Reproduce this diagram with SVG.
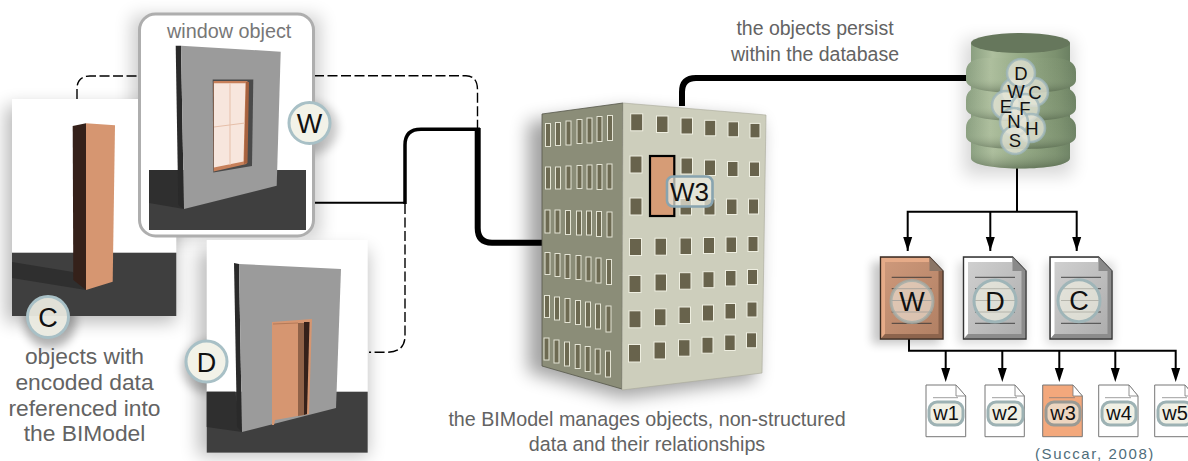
<svg xmlns="http://www.w3.org/2000/svg" width="1188" height="461" viewBox="0 0 1188 461">
<style>
text{font-family:"Liberation Sans",Arial,sans-serif}
.cap{fill:#636363;text-anchor:middle}
.lt{fill:#111;text-anchor:middle}
.bub{fill:#f2f2e8;stroke:#a8c0c6;stroke-width:3}
.bubs{fill:#e6e6d8;fill-opacity:.75;stroke:#9db5ba;stroke-opacity:.8;stroke-width:2.5}
.floor{fill:#3f3f3f}
.fsh{fill:#2f2f2f}
.wall{fill:#9b9b9b}
.wside{fill:#2a2a2a}
.rw{fill:#68634c;stroke:#eeeee0;stroke-width:1}
.lw{fill:#6d6a52;stroke:#e4e4d4;stroke-width:1}
.sh{fill:#000;filter:url(#blur)}
.sh2{fill:#000;filter:url(#blur2)}
.wire{fill:none;stroke:#000}
.dl{stroke:#333;stroke-width:1;opacity:.85}
.sdoc{stroke:#777;stroke-width:1}
.pill{fill:#eeeee2;fill-opacity:.9;stroke:#9db2b4;stroke-width:3}
.sd{stroke:#777;stroke-width:1;opacity:.7}
.fold{fill:#fff;stroke:#777;stroke-width:.8}
</style>
<defs>
<filter id="blur" x="-40%" y="-40%" width="180%" height="180%"><feGaussianBlur stdDeviation="9"/></filter>
<filter id="blur2" x="-60%" y="-60%" width="220%" height="220%"><feGaussianBlur stdDeviation="5"/></filter>
<linearGradient id="db" x1="0" x2="1" y1="0" y2="0"><stop offset="0" stop-color="#8a9f80"/><stop offset=".22" stop-color="#aebf9e"/><stop offset=".5" stop-color="#95aa86"/><stop offset=".85" stop-color="#7c916f"/><stop offset="1" stop-color="#6b8062"/></linearGradient>
<linearGradient id="dbb" x1="0" x2="0" y1="0" y2="1"><stop offset="0" stop-color="#a8b99a" stop-opacity="0"/><stop offset=".6" stop-color="#a8b99a" stop-opacity=".08"/><stop offset="1" stop-color="#2f3d2b" stop-opacity=".42"/></linearGradient>
<linearGradient id="dg" x1="0" x2="1" y1="0" y2="1"><stop offset="0" stop-color="#d2d2d2"/><stop offset="1" stop-color="#ababab"/></linearGradient>
<linearGradient id="og" x1="0" x2="1" y1="0" y2="1"><stop offset="0" stop-color="#cf9a7c"/><stop offset="1" stop-color="#b07f63"/></linearGradient>
</defs>

<g id="shadows">
<rect class="sh" x="6" y="106" width="170" height="216" opacity=".28"/>
<rect class="sh" x="132" y="16" width="188" height="222" opacity=".2"/>
<rect class="sh" x="198" y="250" width="170" height="206" opacity=".25"/>
<circle class="sh2" cx="312" cy="128" r="26" opacity=".2"/>
<circle class="sh2" cx="50" cy="322" r="26" opacity=".3"/>
<circle class="sh2" cx="208" cy="367" r="26" opacity=".25"/>
<polygon class="sh" points="528,122 623,110 760,122 756,380 622,398 528,372" opacity=".36"/>
<rect class="sh" x="964" y="40" width="108" height="135" opacity=".16"/>
<rect class="sh2" x="872" y="262" width="68" height="82" opacity=".22"/>
<rect class="sh2" x="958" y="262" width="68" height="82" opacity=".14"/>
<rect class="sh2" x="1046" y="262" width="68" height="82" opacity=".14"/>
</g>

<g id="connectors">
<path class="wire" stroke-width="1.4" stroke-dasharray="10 3.5" d="M77,99 V89 Q77,76 90,76 H139"/>
<path class="wire" stroke-width="1.4" stroke-dasharray="10 3.5" d="M314,75.7 H466 Q477.5,76 477.5,90 V128"/>
<path class="wire" stroke-width="1.4" stroke-dasharray="10 3.5" d="M405,204 V336 Q405,352 387,352.3 H369"/>
<path class="wire" stroke-width="2" d="M306,202.7 H406"/>
<path class="wire" stroke-width="3.5" d="M405,204 V145 Q405,129.3 421,129.3 H480"/>
<path class="wire" stroke-width="6" d="M477.7,128 V228 Q477.7,242.7 492,242.7 H543"/>
<path class="wire" stroke-width="6" d="M682,106 V92 Q682,78 696,78 H968"/>
<path class="wire" stroke-width="2" d="M1017,166 V211.7"/>
<path class="wire" stroke-width="2" d="M907.7,251 V211.7 H1076.7 V251"/>
<path class="wire" stroke-width="2" d="M990.3,211.7 V251"/>
<path d="M903.2,237 h9 l-4.5,14z M985.8,237 h9 l-4.5,14z M1072.2,237 h9 l-4.5,14z"/>
<path class="wire" stroke-width="2" d="M909,338 V350.7 H1175.7 V368"/>
<path class="wire" stroke-width="2" d="M945.7,350.7 V368 M1002.3,350.7 V368 M1059.3,350.7 V368 M1115.3,350.7 V368"/>
<path d="M941.2,368 h9 l-4.5,14z M997.8,368 h9 l-4.5,14z M1054.8,368 h9 l-4.5,14z M1110.8,368 h9 l-4.5,14z M1171.2,368 h9 l-4.5,14z"/>
</g>

<g id="column-object">
<rect x="12" y="99" width="164.3" height="217" fill="#fff"/>
<rect class="floor" x="12" y="252.7" width="164.3" height="63.3"/>
<polygon class="fsh" points="12,262 73,272 86,290 12,278"/>
<polygon fill="#35211a" points="72.7,126 86,123.3 86,290 73.3,280"/>
<polygon fill="#d69671" points="86,123.3 115,125.3 112.7,281.7 86,290"/>
<circle class="bub" cx="48" cy="317" r="20.5" fill-opacity=".9"/>
<text class="lt" x="48" y="327" font-size="27">C</text>
</g>

<g id="window-object">
<rect x="139.5" y="14" width="174" height="222" rx="16" fill="#fff" stroke="#aeaeae" stroke-width="3"/>
<rect class="floor" x="149" y="170" width="157" height="60"/>
<polygon class="fsh" points="149,170 178,170 184,209 149,203"/>
<polygon class="wside" points="175.7,45.7 181,45.7 184,209 178.3,205"/>
<polygon class="wall" points="181,45.7 280.7,51.7 276.7,185.7 184,209"/>
<polygon fill="#4a4a4a" points="212.7,79.5 253.3,79.5 252,166 213.3,172.5"/>
<polygon fill="#c7805a" points="213.5,81 247.5,81 246.5,164 213.7,171.5"/>
<polygon fill="#a7623f" points="246,82 249,82 247.5,163 244,164"/>
<polygon fill="#f7e6dd" points="214,83.3 245.5,83.3 243.5,161.5 214,167.5"/>
<path d="M230,83.3 V165 M214,127 L245,123" stroke="#e6bfa9" stroke-width="1" fill="none"/>
<text x="229.2" y="38" font-size="19.8" fill="#777" text-anchor="middle">window object</text>
<circle class="bub" cx="309.5" cy="123" r="20.5"/>
<text class="lt" x="309.5" y="133" font-size="27">W</text>
</g>

<g id="door-object">
<rect x="206.7" y="240" width="161" height="213" fill="#fff"/>
<rect class="floor" x="206.7" y="391.7" width="161" height="61"/>
<polygon class="fsh" points="206.7,391.7 235,391.7 242,432 206.7,427"/>
<polygon class="wside" points="234,263 239,264 242,432 237,427"/>
<polygon class="wall" points="239,264 341,269 336,408 242,432"/>
<polygon fill="#d69671" points="272,322 312,319 309,414 275,420 274,425 272,425"/>
<polygon fill="#8f6248" points="298,323 304,323 304,415 298,416"/>
<polygon fill="#35211a" points="304,322 309.5,322 307,414 304,415"/>
<path d="M273,324 L298,323" stroke="#b57a58" stroke-width="1" fill="none"/>
<circle class="bub" cx="206.5" cy="361.5" r="20.5"/>
<text class="lt" x="206.5" y="371.5" font-size="27">D</text>
</g>

<g id="building">
<polygon fill="#8b8d78" stroke="#55574a" stroke-width=".8" points="542,114 623,103 622,389 542,366"/>
<polygon fill="#cdcebc" stroke="#a9aa9a" stroke-width=".6" points="623,103 766,115 762,373 622,390"/>
<g id="left-windows">
<rect class="lw" x="545.5" y="123.5" width="5" height="23"/><rect class="lw" x="555.5" y="122.5" width="5" height="23"/><rect class="lw" x="566" y="121" width="5" height="24"/><rect class="lw" x="577" y="119.5" width="5" height="24"/><rect class="lw" x="587" y="118" width="5" height="25"/><rect class="lw" x="597" y="116.5" width="5" height="25"/><rect class="lw" x="607.5" y="115.5" width="5" height="25"/>
<rect class="lw" x="545.5" y="167" width="5" height="22"/><rect class="lw" x="555.5" y="167" width="5" height="22"/><rect class="lw" x="566" y="166" width="5" height="23"/><rect class="lw" x="577" y="165.5" width="5" height="23"/><rect class="lw" x="587" y="165" width="5" height="24"/><rect class="lw" x="597" y="164.5" width="5" height="25"/><rect class="lw" x="607" y="164" width="5" height="25"/>
<rect class="lw" x="545" y="210" width="5" height="23"/><rect class="lw" x="555" y="210" width="5" height="23"/><rect class="lw" x="565.5" y="210.5" width="5" height="24"/><rect class="lw" x="576.5" y="211" width="5" height="24"/><rect class="lw" x="586.5" y="211" width="5" height="24"/><rect class="lw" x="596.5" y="211.5" width="5" height="25"/><rect class="lw" x="607" y="212" width="5" height="25"/>
<rect class="lw" x="545" y="252.5" width="5" height="22"/><rect class="lw" x="555" y="253.5" width="5" height="23"/><rect class="lw" x="565" y="254.5" width="5" height="24"/><rect class="lw" x="576" y="255.5" width="5" height="24"/><rect class="lw" x="586" y="257" width="5" height="24"/><rect class="lw" x="596" y="258" width="5" height="25"/><rect class="lw" x="606.5" y="259.5" width="5" height="25"/>
<rect class="lw" x="544.5" y="295.5" width="5" height="22"/><rect class="lw" x="554.5" y="297" width="5" height="23"/><rect class="lw" x="565" y="298.5" width="5" height="24"/><rect class="lw" x="575.5" y="300.5" width="5" height="24"/><rect class="lw" x="585.5" y="302" width="5" height="25"/><rect class="lw" x="595.5" y="304" width="5" height="25"/><rect class="lw" x="606" y="306" width="5" height="26"/>
<rect class="lw" x="544" y="338" width="5" height="22"/><rect class="lw" x="554" y="340" width="5" height="23"/><rect class="lw" x="564.5" y="342" width="5" height="24"/><rect class="lw" x="575.2" y="344.5" width="5" height="24"/><rect class="lw" x="585.2" y="346.5" width="5" height="25"/><rect class="lw" x="595.2" y="349" width="5" height="25"/><rect class="lw" x="605.5" y="351" width="5" height="26"/>
</g>
<g id="right-windows">
<rect class="rw" x="630.7" y="113.8" width="12" height="17"/><rect class="rw" x="656.5" y="116" width="11.5" height="16.5"/><rect class="rw" x="681" y="118" width="11.5" height="16"/><rect class="rw" x="704.7" y="120.3" width="11" height="15.5"/><rect class="rw" x="728" y="121.8" width="10.5" height="15"/><rect class="rw" x="750" y="123.4" width="10" height="14.5"/>
<rect class="rw" x="630" y="156" width="12" height="17"/><rect class="rw" x="681" y="158" width="11.5" height="16"/><rect class="rw" x="704.5" y="160" width="11" height="15.5"/><rect class="rw" x="727.5" y="161.5" width="10.5" height="15"/><rect class="rw" x="749.5" y="162" width="10" height="14.5"/>
<rect class="rw" x="630" y="198" width="12" height="17"/><rect class="rw" x="680" y="198.5" width="11.5" height="16.5"/><rect class="rw" x="704" y="199" width="11" height="16"/><rect class="rw" x="726.5" y="199" width="10.5" height="15.5"/><rect class="rw" x="748.5" y="199" width="10" height="15"/>
<rect class="rw" x="629.5" y="238.5" width="12" height="17"/><rect class="rw" x="655" y="238.2" width="11.5" height="17"/><rect class="rw" x="680" y="238" width="11.5" height="16.5"/><rect class="rw" x="703.5" y="237.5" width="11" height="16"/><rect class="rw" x="726" y="237" width="10.5" height="15.5"/><rect class="rw" x="748" y="236.5" width="10" height="15"/>
<rect class="rw" x="629" y="275.5" width="12" height="17"/><rect class="rw" x="655" y="274" width="11.5" height="17"/><rect class="rw" x="679.5" y="272.7" width="11.5" height="16.5"/><rect class="rw" x="703" y="271.7" width="11" height="16"/><rect class="rw" x="725.5" y="270.5" width="10.5" height="15.5"/><rect class="rw" x="747.5" y="269.5" width="10" height="15"/>
<rect class="rw" x="629" y="310.8" width="12" height="17"/><rect class="rw" x="654.5" y="308.8" width="11.5" height="17"/><rect class="rw" x="679" y="307" width="11.5" height="16.5"/><rect class="rw" x="702.5" y="305" width="11" height="16"/><rect class="rw" x="725" y="303.5" width="10.5" height="15.5"/><rect class="rw" x="747" y="302" width="10" height="15"/>
<rect class="rw" x="628.5" y="344.5" width="12" height="17.5"/><rect class="rw" x="654" y="342" width="11.5" height="17"/><rect class="rw" x="678.5" y="339.7" width="11.5" height="16.5"/><rect class="rw" x="702" y="337.2" width="11" height="16"/><rect class="rw" x="724.7" y="335" width="10.5" height="15.5"/><rect class="rw" x="746.5" y="332.8" width="10" height="15"/>
</g>
<rect x="650" y="156" width="24.3" height="60" fill="#d69c76" stroke="#000" stroke-width="2.2"/>
<rect x="667" y="176.5" width="45.5" height="30" rx="6" fill="#eeeee2" fill-opacity=".7" stroke="#88a4b0" stroke-width="2.6"/>
<text class="lt" x="689.5" y="201" font-size="26">W3</text>
</g>

<g id="database">
<path fill="url(#db)" d="M971,43 V158 C971,172 1070,172 1070,158 V43Z"/>
<path fill="url(#dbb)" d="M971,125 V158 C971,172 1070,172 1070,158 V125Z"/>
<path fill="url(#db)" d="M966,128 C966,119 972,115 985,114 H1056 C1069,115 1076,119 1076,128 V136 C1076,146 1050,149 1021,149 C992,149 966,146 966,136Z"/>
<path fill="url(#dbb)" d="M966,128 C966,119 972,115 985,114 H1056 C1069,115 1076,119 1076,128 V136 C1076,146 1050,149 1021,149 C992,149 966,146 966,136Z"/>
<path fill="url(#db)" d="M966,100 C966,91 972,87 985,86 H1056 C1069,87 1076,91 1076,100 V108 C1076,118 1050,121 1021,121 C992,121 966,118 966,108Z"/>
<path fill="url(#dbb)" d="M966,100 C966,91 972,87 985,86 H1056 C1069,87 1076,91 1076,100 V108 C1076,118 1050,121 1021,121 C992,121 966,118 966,108Z"/>
<path fill="url(#db)" d="M966,72 C966,63 972,59 985,58 H1056 C1069,59 1076,63 1076,72 V80 C1076,90 1050,93 1021,93 C992,93 966,90 966,80Z"/>
<path fill="url(#dbb)" d="M966,72 C966,63 972,59 985,58 H1056 C1069,59 1076,63 1076,72 V80 C1076,90 1050,93 1021,93 C992,93 966,90 966,80Z"/>
<ellipse cx="1020.5" cy="43" rx="49.5" ry="10" fill="#66775c"/>
<circle class="bubs" cx="1015" cy="92" r="14"/>
<circle class="bubs" cx="1034" cy="92" r="14"/>
<circle class="bubs" cx="1021" cy="73" r="14"/>
<circle class="bubs" cx="1006" cy="105" r="14"/>
<circle class="bubs" cx="1025" cy="108" r="14"/>
<circle class="bubs" cx="1031" cy="128" r="14"/>
<circle class="bubs" cx="1014" cy="122" r="14"/>
<circle class="bubs" cx="1015" cy="140" r="14"/>
<text class="lt" x="1016" y="97.6" font-size="18.5">W</text>
<text class="lt" x="1035" y="98.6" font-size="18.5">C</text>
<text class="lt" x="1021" y="79.6" font-size="18.5">D</text>
<text class="lt" x="1006" y="112.6" font-size="18.5">E</text>
<text class="lt" x="1025" y="114.6" font-size="18.5">F</text>
<text class="lt" x="1032" y="134.6" font-size="18.5">H</text>
<text class="lt" x="1014" y="127.6" font-size="18.5">N</text>
<text class="lt" x="1015" y="146.6" font-size="18.5">S</text>
</g>

<g id="doc-W">
<path fill="url(#og)" stroke="#3a2a20" stroke-width="1.4" d="M880.5,257 H929.5 L943,271 V339 H880.5Z"/>
<path fill="#e6ab88" d="M881.5,258 H929 V262 H885 V334 L881.5,338Z"/>
<path fill="#8d644d" d="M881.5,338 L885,334 H938.5 V271 H942 V338Z"/>
<polygon points="929.5,257 943,271 929.5,271" fill="#8a7566"/>
<path class="dl" stroke="#5a2d14" d="M891.7,277.3 H931.7 M891.7,288.7 H931.7 M891.7,300.5 H931.7 M891.7,312 H931.7 M891.7,323.3 H931.7"/>
<circle cx="912" cy="301.5" r="21" fill="#f0eadd" fill-opacity=".6" stroke="#a3aca8" stroke-opacity=".8" stroke-width="3"/>
<text class="lt" x="912" y="311" font-size="27">W</text>
</g>
<g id="doc-D">
<path fill="url(#dg)" stroke="#333" stroke-width="1.4" d="M963.5,257 H1012.5 L1026,271 V339 H963.5Z"/>
<path fill="#fff" d="M964.5,258 H1012 V262 H968 V334 L964.5,338Z"/>
<path fill="#8c8c8c" d="M964.5,338 L968,334 H1021.5 V271 H1025 V338Z"/>
<polygon points="1012.5,257 1026,271 1012.5,271" fill="#8a8a8a"/>
<path class="dl" d="M975,277.3 H1015 M975,288.7 H1015 M975,300.5 H1015 M975,312 H1015 M975,323.3 H1015"/>
<circle cx="995" cy="301" r="21" fill="#f0f0e2" fill-opacity=".65" stroke="#9fb5b8" stroke-width="3"/>
<text class="lt" x="995" y="310.5" font-size="27">D</text>
</g>
<g id="doc-C">
<path fill="url(#dg)" stroke="#333" stroke-width="1.4" d="M1050,257 H1098.5 L1112,271 V339 H1050Z"/>
<path fill="#fff" d="M1051,258 H1098 V262 H1054.5 V334 L1051,338Z"/>
<path fill="#8c8c8c" d="M1051,338 L1054.5,334 H1107.5 V271 H1111 V338Z"/>
<polygon points="1098.5,257 1112,271 1098.5,271" fill="#8a8a8a"/>
<path class="dl" d="M1061,277.3 H1101 M1061,288.7 H1101 M1061,300.5 H1101 M1061,312 H1101 M1061,323.3 H1101"/>
<circle cx="1079" cy="300.7" r="21" fill="#f0f0e2" fill-opacity=".65" stroke="#9fb5b8" stroke-width="3"/>
<text class="lt" x="1079" y="310" font-size="27">C</text>
</g>

<g id="doc-w1">
<path class="sdoc" fill="#fff" d="M926,385 H956 L965.7,396 V436.7 H926Z"/><path class="fold" d="M956,385 V396 H965.7Z"/>
<path class="sd" d="M933,397.7 H958"/>
<rect class="pill" x="929" y="402" width="34" height="23" rx="8"/><text class="lt" x="946" y="420" font-size="20">w1</text>
</g>
<g id="doc-w2">
<path class="sdoc" fill="#fff" d="M985,385 H1015 L1024.3,396 V436.7 H985Z"/><path class="fold" d="M1015,385 V396 H1024.3Z"/>
<path class="sd" d="M992,397.7 H1017"/>
<rect class="pill" x="988" y="402" width="35" height="23" rx="8"/><text class="lt" x="1005" y="420" font-size="20">w2</text>
</g>
<g id="doc-w3">
<path class="sdoc" fill="#f3a87c" d="M1042.7,385 H1073 L1082.3,396 V436.7 H1042.7Z"/><path class="fold" d="M1073,385 V396 H1082.3Z"/>
<path class="sd" d="M1049,397.7 H1075"/>
<rect x="1046" y="402" width="34" height="23" rx="8" fill="#ecd9c6" fill-opacity=".9" stroke="#9a9a94" stroke-width="3"/><text class="lt" x="1063" y="420" font-size="20">w3</text>
</g>
<g id="doc-w4">
<path class="sdoc" fill="#fff" d="M1098.7,385 H1129 L1138,396 V436.7 H1098.7Z"/><path class="fold" d="M1129,385 V396 H1138Z"/>
<path class="sd" d="M1105,397.7 H1131"/>
<rect class="pill" x="1102" y="402" width="34" height="23" rx="8"/><text class="lt" x="1119" y="420" font-size="20">w4</text>
</g>
<g id="doc-w5">
<path class="sdoc" fill="#fff" d="M1154.7,385 H1185 L1194,396 V436.7 H1154.7Z"/><path class="fold" d="M1185,385 V396 H1194Z"/>
<path class="sd" d="M1162,397.7 H1187"/>
<rect class="pill" x="1158" y="402" width="34" height="23" rx="8"/><text class="lt" x="1175" y="420" font-size="20">w5</text>
</g>

<g id="captions">
<text class="cap" font-size="22.8" x="84.5" y="364">objects with</text>
<text class="cap" font-size="22.8" x="84.5" y="390">encoded data</text>
<text class="cap" font-size="22.8" x="84.5" y="416">referenced into</text>
<text class="cap" font-size="22.8" x="84.5" y="441">the BIModel</text>
<text class="cap" font-size="19.5" x="815" y="35">the objects persist</text>
<text class="cap" font-size="19.5" x="815" y="61">within the database</text>
<text class="cap" font-size="19.7" x="647" y="426">the BIModel manages objects, non-structured</text>
<text class="cap" font-size="19.7" x="647" y="451">data and their relationships</text>
<text x="1095" y="459" font-size="15" fill="#4f6d7a" text-anchor="middle" letter-spacing="1.6">(Succar, 2008)</text>
</g>
</svg>
